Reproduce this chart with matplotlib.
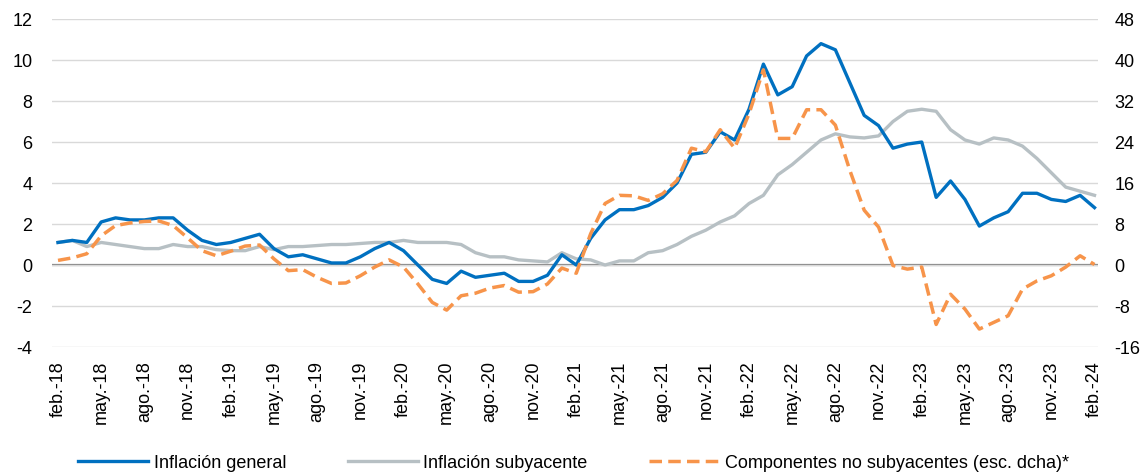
import matplotlib.pyplot as plt

# Meses (feb-18 a feb-24) y etiquetas del eje x cada 3 meses
meses = ['ene', 'feb', 'mar', 'abr', 'may', 'jun', 'jul', 'ago', 'sep', 'oct', 'nov', 'dic']
etiquetas = []
for k in range(73):
    m = (1 + k) % 12
    a = 18 + (1 + k) // 12
    etiquetas.append(f'{meses[m]}.-{a}')

# Inflación general (%)
general = [
    1.1, 1.2, 1.1, 2.1, 2.3, 2.2, 2.2, 2.3, 2.3, 1.7, 1.2, 1.0,
    1.1, 1.3, 1.5, 0.8, 0.4, 0.5, 0.3, 0.1, 0.1, 0.4, 0.8, 1.1,
    0.7, 0.0, -0.7, -0.9, -0.3, -0.6, -0.5, -0.4, -0.8, -0.8, -0.5, 0.5,
    0.0, 1.3, 2.2, 2.7, 2.7, 2.9, 3.3, 4.0, 5.4, 5.5, 6.5, 6.1,
    7.6, 9.8, 8.3, 8.7, 10.2, 10.8, 10.5, 8.9, 7.3, 6.8, 5.7, 5.9,
    6.0, 3.3, 4.1, 3.2, 1.9, 2.3, 2.6, 3.5, 3.5, 3.2, 3.1, 3.4,
    2.8
]

# Inflación subyacente (%)
subyacente = [
    1.1, 1.2, 0.9, 1.1, 1.0, 0.9, 0.8, 0.8, 1.0, 0.9, 0.9, 0.75,
    0.7, 0.7, 0.9, 0.75, 0.9, 0.9, 0.95, 1.0, 1.0, 1.05, 1.1, 1.1,
    1.2, 1.1, 1.1, 1.1, 1.0, 0.6, 0.4, 0.4, 0.25, 0.2, 0.15, 0.6,
    0.3, 0.25, 0.0, 0.2, 0.2, 0.6, 0.7, 1.0, 1.4, 1.7, 2.1, 2.4,
    3.0, 3.4, 4.4, 4.9, 5.5, 6.1, 6.4, 6.25, 6.2, 6.3, 7.0, 7.5,
    7.6, 7.5, 6.6, 6.1, 5.9, 6.2, 6.1, 5.8, 5.2, 4.5, 3.8, 3.6,
    3.4
]

# Componentes no subyacentes (%, escala derecha)
no_subyacentes = [
    0.9, 1.4, 2.2, 5.7, 7.7, 8.2, 8.5, 8.6, 7.7, 5.3, 2.8, 1.8,
    2.7, 3.7, 3.9, 1.2, -1.1, -0.9, -2.4, -3.6, -3.5, -2.1, -0.4, 1.0,
    -0.4, -3.7, -7.3, -8.8, -6.0, -5.5, -4.5, -4.0, -5.3, -5.2, -3.7, -0.6,
    -1.6, 6.1, 12.0, 13.6, 13.5, 12.6, 13.9, 16.5, 22.8, 22.1, 26.4, 22.8,
    29.5, 38.1, 24.7, 24.7, 30.3, 30.3, 27.3, 18.5, 10.7, 7.4, -0.1, -0.8,
    -0.4, -11.6, -5.7, -8.6, -12.5, -11.2, -9.9, -4.7, -3.1, -2.1, -0.4, 1.8,
    0.1
]

x = list(range(len(general)))

plt.rcParams['font.family'] = ['Liberation Sans', 'DejaVu Sans']
plt.rcParams['axes.unicode_minus'] = False

fig = plt.figure(figsize=(11.47, 4.76), dpi=100)
ax = fig.add_axes([0.0453, 0.271, 0.9117, 0.689])
ax2 = ax.twinx()

ax.set_ylim(-4, 12)
ax.set_yticks(range(-4, 13, 2))
ax2.set_ylim(-16, 48)
ax2.set_yticks(range(-16, 49, 8))
ax.set_xlim(-0.42, 72.22)

ax.grid(axis='y', color='#d9d9d9', linewidth=1)
ax.axhline(0, color='#808080', linewidth=1.6, zorder=1)

l1, = ax.plot(x, general, color='#0070C0', linewidth=2.4, label='Inflación general', zorder=3)
l2, = ax.plot(x, subyacente, color='#B7C0C4', linewidth=2.4, label='Inflación subyacente', zorder=2)
l3, = ax2.plot(x, no_subyacentes, color='#F7944A', linewidth=2.5, linestyle=(0, (3.6, 1.8)),
               label='Componentes no subyacentes (esc. dcha)*')

ax.set_xticks(x[::3])
ax.set_xticklabels(etiquetas[::3], rotation=90, fontsize=12.5)
for a in (ax, ax2):
    for s in a.spines.values():
        s.set_visible(False)
    a.tick_params(length=0, labelsize=13)
ax.tick_params(axis='y', pad=14)
ax.tick_params(axis='x', pad=10)
ax2.tick_params(axis='y', pad=12)

fig.legend(handles=[l1, l2, l3], loc='lower center', bbox_to_anchor=(0.5, -0.025), ncol=3,
           frameon=False, fontsize=13, handlelength=3.9, columnspacing=3.4, handletextpad=0.3)

fig.savefig('out.png', dpi=100)
